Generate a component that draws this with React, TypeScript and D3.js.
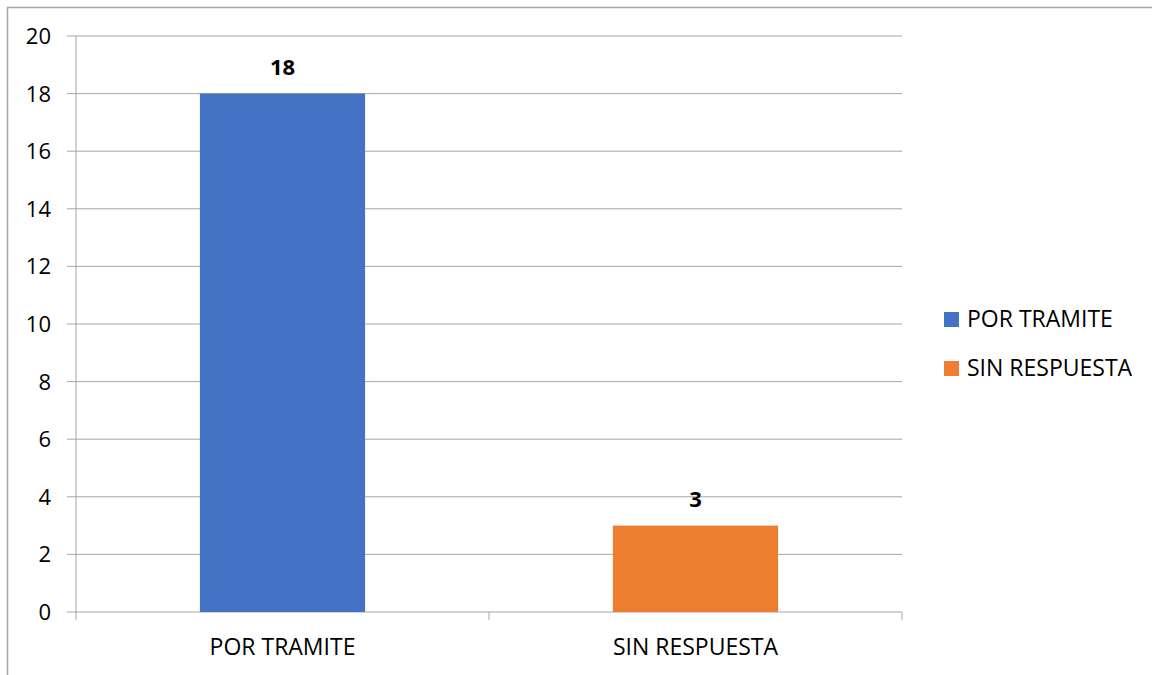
import React, { ReactElement, useEffect, useRef } from "react";
import * as d3 from "d3";

const categories = ["POR TRAMITE", "SIN RESPUESTA"];
const values = [18, 3];
const colors = ["#4472c4", "#ed7d31"];
const yTicks = [0, 2, 4, 6, 8, 10, 12, 14, 16, 18, 20];

function App(): ReactElement {
  const ref = useRef<SVGSVGElement>(null);

  useEffect(() => {
    const svg = d3.select(ref.current);
    svg.selectAll("*").remove();
    const font = "'Open Sans', 'Liberation Sans', sans-serif";
    const left = 76;
    const right = 902;
    const top = 36;
    const bottom = 612;

    // outer frame (right and bottom edges fall outside the picture)
    svg
      .append("rect")
      .attr("x", 7.5)
      .attr("y", 7.5)
      .attr("width", 1200)
      .attr("height", 700)
      .attr("fill", "white")
      .attr("stroke", "#a6a6a6")
      .attr("stroke-width", 1.5);

    const x = d3.scaleBand().domain(categories).range([left, right]).paddingInner(0.6).paddingOuter(0.3);
    const xOuter = d3.scaleBand().domain(categories).range([left, right]);
    const y = d3.scaleLinear().domain([0, 20]).range([bottom, top]);

    // grid lines with ticks sticking out on the left
    svg
      .append("g")
      .selectAll("line")
      .data(yTicks)
      .enter()
      .append("line")
      .attr("x1", left - 9)
      .attr("x2", right)
      .attr("y1", (d) => y(d))
      .attr("y2", (d) => y(d))
      .attr("stroke", "#a6a6a6")
      .attr("stroke-width", 1);

    svg
      .append("g")
      .selectAll("text")
      .data(yTicks)
      .enter()
      .append("text")
      .attr("x", 51)
      .attr("y", (d) => y(d) + 8)
      .attr("text-anchor", "end")
      .attr("font-family", font)
      .attr("font-size", 22)
      .attr("fill", "#000")
      .text((d) => d);

    // bars
    svg
      .selectAll(".bar")
      .data(values)
      .enter()
      .append("rect")
      .attr("class", "bar")
      .attr("x", (_, i) => x(categories[i]) || 0)
      .attr("width", x.bandwidth())
      .attr("y", (d) => y(d))
      .attr("height", (d) => bottom - y(d))
      .attr("fill", (_, i) => colors[i]);

    // data labels
    svg
      .selectAll(".lbl")
      .data(values)
      .enter()
      .append("text")
      .attr("class", "lbl")
      .attr("x", (_, i) => (x(categories[i]) || 0) + x.bandwidth() / 2)
      .attr("y", (d) => y(d) - 19)
      .attr("text-anchor", "middle")
      .attr("font-family", font)
      .attr("font-weight", "bold")
      .attr("font-size", 22)
      .text((d) => d);

    // axes
    svg
      .append("line")
      .attr("x1", left)
      .attr("x2", left)
      .attr("y1", top)
      .attr("y2", bottom)
      .attr("stroke", "#a6a6a6");
    const xTicks = [left, ...categories.map((c) => (xOuter(c) || 0) + xOuter.bandwidth())];
    svg
      .append("g")
      .selectAll("line")
      .data(xTicks)
      .enter()
      .append("line")
      .attr("x1", (d) => d)
      .attr("x2", (d) => d)
      .attr("y1", bottom)
      .attr("y2", bottom + 8)
      .attr("stroke", "#a6a6a6");
    svg
      .append("g")
      .selectAll("text")
      .data(categories)
      .enter()
      .append("text")
      .attr("x", (d) => (xOuter(d) || 0) + xOuter.bandwidth() / 2)
      .attr("y", 655)
      .attr("text-anchor", "middle")
      .attr("font-family", font)
      .attr("font-size", 23)
      .text((d) => d);

    // legend
    const lg = svg
      .append("g")
      .selectAll("g")
      .data(categories)
      .enter()
      .append("g")
      .attr("transform", (_, i) => `translate(944,${319 + i * 49})`);
    lg.append("rect")
      .attr("x", 0)
      .attr("y", -7)
      .attr("width", 15)
      .attr("height", 15)
      .attr("fill", (_, i) => colors[i]);
    lg.append("text")
      .attr("x", 23)
      .attr("y", 8)
      .attr("font-family", font)
      .attr("font-size", 23)
      .text((d) => d);
  });

  return (
    <div style={{ position: "absolute", left: 0, top: 0 }}>
      <svg ref={ref} width={1152} height={675}></svg>
    </div>
  );
}

export default App;
